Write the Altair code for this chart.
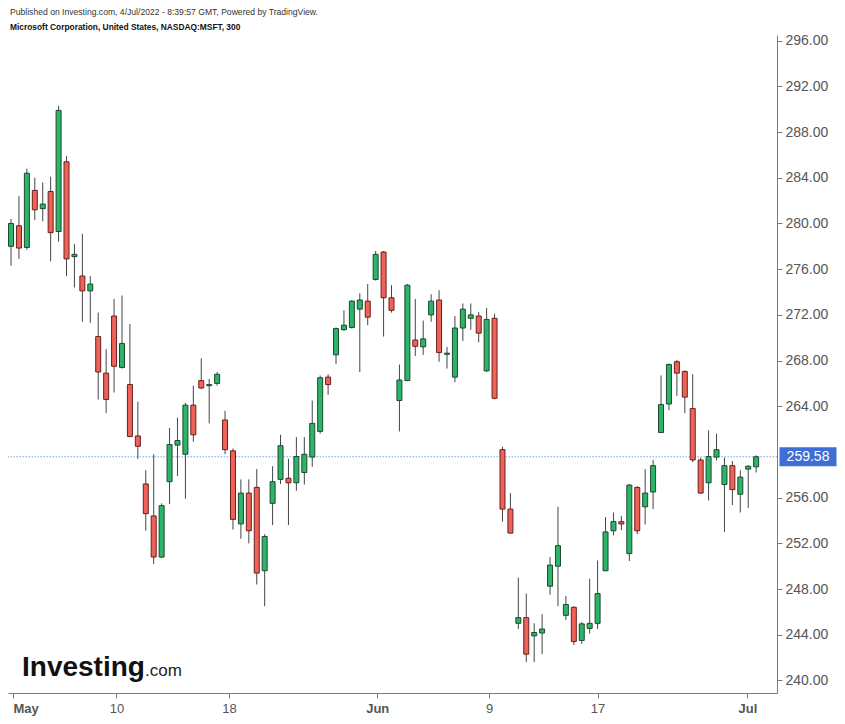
import altair as alt
import pandas as pd

# ---- candle data (5-hour candles, MSFT, May-Jul 2022) ----
opens = [278.0, 279.8, 277.9, 282.9, 281.3, 282.8, 279.3, 285.4, 277.1, 275.4,
         274.1, 270.1, 266.9, 271.9, 267.4, 265.9, 261.4, 257.2, 254.4, 250.8,
         257.4, 260.6, 259.8, 264.1, 266.25, 265.8, 266.0, 262.8, 260.1, 253.7,
         256.4, 256.9, 249.6, 255.5, 257.6, 257.7, 257.3, 258.2, 259.55, 261.8,
         266.55, 268.5, 270.7, 270.9, 272.5, 273.2, 275.1, 277.5, 273.5, 264.5,
         266.25, 269.8, 269.2, 272.0, 273.3, 268.55, 266.55, 270.85, 271.7, 271.9,
         267.1, 271.7, 260.2, 255.0, 245.0, 245.5, 243.9, 244.15, 248.25, 250.0,
         245.7, 246.4, 243.5, 244.55, 245.0, 249.6, 253.1, 253.9, 251.1, 256.9,
         255.2, 256.5, 261.7, 264.2, 267.9, 267.05, 263.8, 259.3, 257.3, 259.55,
         257.15, 258.8, 256.3, 258.5, 258.7]
highs = [280.4, 282.4, 284.8, 284.0, 283.6, 284.1, 290.3, 285.9, 278.2, 279.1,
         275.4, 272.2, 269.0, 273.4, 273.7, 271.2, 264.4, 258.4, 259.8, 255.5,
         262.1, 263.0, 264.3, 265.8, 268.2, 266.4, 267.0, 263.6, 260.3, 257.6,
         257.6, 258.5, 252.8, 258.75, 261.5, 259.4, 261.3, 261.3, 264.5, 266.7,
         266.8, 270.9, 272.4, 273.3, 273.9, 274.7, 277.6, 277.6, 274.6, 267.65,
         274.7, 273.4, 271.5, 273.8, 274.15, 269.2, 271.9, 273.0, 273.0, 272.25,
         272.6, 272.1, 260.45, 256.4, 249.0, 247.6, 245.0, 245.8, 250.8, 255.2,
         247.4, 246.5, 245.1, 248.9, 250.5, 254.3, 254.7, 254.4, 257.2, 257.0,
         258.5, 259.3, 266.7, 267.75, 268.05, 267.15, 266.8, 259.5, 261.9, 261.6,
         259.5, 259.2, 258.4, 258.85, 259.7]
lows = [276.3, 276.9, 277.7, 280.3, 280.2, 276.7, 278.4, 275.4, 274.4, 271.4,
        271.3, 264.6, 263.4, 265.2, 267.3, 261.3, 259.4, 253.1, 250.2, 250.7,
        255.45, 257.9, 255.9, 260.9, 265.5, 262.5, 265.8, 259.8, 253.2, 252.4,
        252.0, 248.4, 246.5, 253.6, 257.2, 253.6, 256.6, 257.15, 258.7, 261.6,
        265.0, 267.7, 270.6, 270.8, 267.0, 271.1, 275.0, 270.1, 272.2, 261.8,
        266.2, 268.4, 268.5, 271.4, 267.9, 267.3, 266.1, 269.7, 270.7, 269.6,
        267.0, 264.6, 253.9, 252.85, 244.5, 241.6, 241.6, 242.3, 247.5, 246.5,
        245.3, 243.1, 243.2, 244.1, 244.5, 249.6, 252.7, 253.15, 250.45, 252.8,
        253.65, 255.0, 261.7, 263.65, 264.9, 263.4, 259.1, 256.35, 255.75, 259.25,
        253.0, 255.35, 254.7, 255.1, 258.2]
closes = [280.0, 277.85, 284.4, 281.2, 281.7, 279.2, 289.9, 276.9, 277.3, 274.1,
          274.7, 267.0, 264.6, 267.5, 269.5, 261.35, 260.5, 254.6, 250.8, 255.3,
          260.65, 261.0, 264.1, 261.5, 265.6, 265.9, 266.8, 260.2, 254.1, 256.4,
          253.1, 249.4, 252.6, 257.4, 260.55, 257.3, 259.6, 259.8, 262.5, 266.5,
          265.9, 270.8, 271.1, 273.2, 273.3, 271.8, 277.3, 273.5, 272.4, 266.3,
          274.6, 269.25, 269.9, 273.2, 268.7, 268.65, 270.85, 272.5, 272.0, 270.4,
          271.6, 264.7, 255.0, 252.9, 245.5, 242.3, 244.2, 244.5, 250.1, 251.8,
          246.65, 243.4, 244.95, 245.0, 247.6, 253.0, 253.9, 253.7, 257.1, 253.1,
          256.4, 258.8, 264.15, 267.65, 266.9, 264.8, 259.3, 256.4, 259.6, 260.2,
          258.8, 256.7, 257.8, 258.75, 259.58]

# x-axis date labels (positions in candle index units)
tick_pos = [0.25, 13.3, 27.5, 46.2, 60.3, 74.0, 92.9]
tick_labels = ["May", "10", "18", "Jun", "9", "17", "Jul"]
month_labels = ["May", "Jun", "Jul"]

# y-axis price labels
y_ticks = [240, 244, 248, 252, 256, 264, 268, 272, 276, 280, 284, 288, 292, 296]

header1 = "Published on Investing.com, 4/Jul/2022 - 8:39:57 GMT, Powered by TradingView."
header2 = "Microsoft Corporation, United States, NASDAQ:MSFT, 300"
logo_main = "Investing"
logo_tail = ".com"

# ---- build ----
df = pd.DataFrame({
    "idx": list(range(len(opens))),
    "open": opens, "high": highs, "low": lows, "close": closes,
})
last = pd.DataFrame({"price": [closes[-1]], "label": [f"{closes[-1]:.2f}"]})

GREEN = "#2bb46a"
GREEN_EDGE = "#1d4a2c"
RED = "#ee6257"
RED_EDGE = "#6a1f1f"
AXIS_GRAY = "#7a7a7a"
LABEL_GRAY = "#555555"
FONT = "Liberation Sans"

label_expr = "''"
for p, l in reversed(list(zip(tick_pos, tick_labels))):
    label_expr = f"abs(datum.value - {p}) < 0.01 ? '{l}' : ({label_expr})"
bold_test = " || ".join(
    f"abs(datum.value - {p}) < 0.01" for p, l in zip(tick_pos, tick_labels) if l in month_labels
)
first_test = f"datum.value < {tick_pos[0] + 0.01}"

x_scale = alt.Scale(domain=[0.25, 96.0], nice=False, zero=False)
y_scale = alt.Scale(domain=[238.9, 296.5], nice=False, zero=False)

x_axis = alt.Axis(
    values=tick_pos, labelExpr=label_expr, title=None, grid=False,
    labelFlush=False, labelOverlap=False, tickSize=5, labelPadding=4,
    labelFontSize=13, labelColor=LABEL_GRAY, tickColor=AXIS_GRAY,
    domainColor=AXIS_GRAY, labelFont=FONT,
    labelAlign={"condition": {"test": first_test, "value": "left"}, "value": "center"},
    labelFontWeight={"condition": {"test": bold_test, "value": "bold"}, "value": "normal"},
)
y_axis = alt.Axis(
    orient="right", values=y_ticks, format=".2f", title=None, grid=False,
    tickSize=5, labelPadding=3, labelFontSize=14, labelColor=LABEL_GRAY,
    tickColor=AXIS_GRAY, domainColor=AXIS_GRAY, labelFont=FONT,
)

base = alt.Chart(df)
up = "datum.close >= datum.open"

wicks = base.mark_rule(color="#454545", strokeWidth=1, clip=True).encode(
    x=alt.X("idx:Q", scale=x_scale, axis=x_axis),
    y=alt.Y("low:Q", scale=y_scale, axis=y_axis),
    y2="high:Q",
)
bodies = base.mark_bar(size=5, strokeWidth=1, clip=True).encode(
    x=alt.X("idx:Q", scale=x_scale, axis=x_axis),
    y=alt.Y("open:Q", scale=y_scale, axis=y_axis),
    y2="close:Q",
    fill=alt.condition(up, alt.value(GREEN), alt.value(RED)),
    stroke=alt.condition(up, alt.value(GREEN_EDGE), alt.value(RED_EDGE)),
)

pbase = alt.Chart(last)
price_line = pbase.mark_rule(color="#7fa8dc", strokeWidth=1, strokeDash=[1.5, 1.5]).encode(
    y=alt.Y("price:Q", scale=y_scale, axis=y_axis),
)
price_box = pbase.mark_point(
    shape="M-1,-0.3333L1,-0.3333L1,0.3333L-1,0.3333Z", size=3249,
    filled=True, opacity=1, color="#3f6fd6", strokeWidth=0,
).encode(
    x=alt.value(800),
    y=alt.Y("price:Q", scale=y_scale, axis=y_axis),
)
price_text = pbase.mark_text(
    color="white", fontSize=14, font=FONT, align="center", baseline="middle",
).encode(
    x=alt.value(800),
    y=alt.Y("price:Q", scale=y_scale, axis=y_axis),
    text="label:N",
)

tdf = pd.DataFrame({"h1": [header1], "h2": [header2], "l1": [logo_main], "l2": [logo_tail]})
tbase = alt.Chart(tdf)
head1 = tbase.mark_text(align="left", baseline="middle", fontSize=8.6, font=FONT,
                        color="#333333").encode(x=alt.value(2), y=alt.value(-23), text="h1:N")
head2 = tbase.mark_text(align="left", baseline="middle", fontSize=8.4, font=FONT,
                        fontWeight="bold", color="#111111").encode(x=alt.value(2), y=alt.value(-8), text="h2:N")
logo1 = tbase.mark_text(align="left", baseline="alphabetic", fontSize=28, font=FONT,
                        fontWeight="bold", color="#111111").encode(x=alt.value(14), y=alt.value(641), text="l1:N")
logo2 = tbase.mark_text(align="left", baseline="alphabetic", fontSize=17, font=FONT,
                        color="#222222").encode(x=alt.value(137), y=alt.value(641), text="l2:N")

chart = alt.layer(
    price_line, wicks, bodies, price_box, price_text, head1, head2, logo1, logo2
).properties(
    width=769, height=658,
    autosize=alt.AutoSizeParams(type="none"),
    padding={"left": 0, "top": 27, "right": 60, "bottom": 24},
    background="white",
).configure_view(strokeWidth=0)

chart.save("out.html", embed_options={"renderer": "svg", "actions": False})
